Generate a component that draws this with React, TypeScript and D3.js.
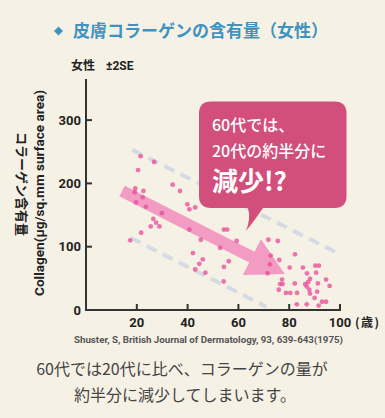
import React from 'react';
import * as d3 from 'd3';

// 年齢 (歳) と コラーゲン量 (μg/sq.mm)
const ages = [
  21.5, 26.8, 20.5, 19.4, 19.2, 22.6, 22.3, 19.7, 23.6, 29.9, 26.5, 27.6, 25.5, 28.9, 21.7, 17.4,
  34.1, 37, 39.9, 40.7, 43, 40.7, 45.2, 42.1, 46, 44.6, 43, 47,
  54.3, 55.6, 59.3, 52.8, 56.2, 54.3, 54.2,
  71.8, 75.5, 72.7, 76.1, 72.4, 71.5, 77.2, 76.4, 77.4, 75.9,
  82.3, 80.2, 85.4, 90.3, 91.7, 87, 90.6, 94.5, 88.2, 87.4, 86.3, 82.2, 91.3, 95.9, 86.9, 87.9,
  78.7, 80.4, 83.1, 88.2, 91, 90, 83, 86.9, 91.6, 92.9, 94.5,
];
const collagen = [
  243, 234, 221, 192, 186, 188, 178, 170, 163, 153, 144, 138, 132, 132, 122, 110,
  198, 188, 167, 159, 162, 127, 111, 90, 80, 73, 64, 59,
  127, 127, 109, 98, 77, 68, 45,
  111, 109, 86, 79, 72, 58, 48, 41, 41, 32,
  88, 67, 67, 70, 70, 58, 59, 48, 49, 44, 41, 42, 42, 38, 37, 32,
  27, 27, 27, 26, 29, 19, 9, 9, 7, 13, 13,
];

// ±2SE bounds and the trend arrow
const upperAge = [18.2, 100];
const upperVal = [253, 88];
const lowerAge = [17.6, 71];
const lowerVal = [114, 5];
const arrowAge = [14.2, 78.3];
const arrowVal = [188, 57];

const xTicks = [20, 40, 60, 80, 100];
const yTicks = [0, 100, 200, 300];

const W = 385;
const H = 418;

const x = d3.scaleLinear().domain([0, 100]).range([86, 340]);
const y = d3.scaleLinear().domain([0, 100]).range([310, 246.7]);

const jp = "'Noto Sans CJK JP', sans-serif";
const num = "'Liberation Sans Narrow', 'Roboto', 'DejaVu Sans', sans-serif";

function arrowPath() {
  const x0 = x(arrowAge[0]), y0 = y(arrowVal[0]);
  const x1 = x(arrowAge[1]), y1 = y(arrowVal[1]);
  const len = Math.hypot(x1 - x0, y1 - y0);
  const ux = (x1 - x0) / len, uy = (y1 - y0) / len;
  const nx = -uy, ny = ux;
  const shaft = 6, head = 20, headLen = 37;
  const bx = x1 - ux * headLen, by = y1 - uy * headLen;
  const pts: [number, number][] = [
    [x0 + nx * shaft, y0 + ny * shaft],
    [bx + nx * shaft, by + ny * shaft],
    [bx + nx * head, by + ny * head],
    [x1, y1],
    [bx - nx * head, by - ny * head],
    [bx - nx * shaft, by - ny * shaft],
    [x0 - nx * shaft, y0 - ny * shaft],
  ];
  return d3.line()(pts) + 'Z';
}

export default function App() {
  return (
    <svg width={W} height={H} style={{ position: 'absolute', left: 0, top: 0 }}>
      <rect width={W} height={H} fill="#f6f1e5" />

      {/* title */}
      <path d="M58.5,26.5 L63,31 L58.5,35.5 L54,31 Z" fill="#3f93c0" />
      <text x={73} y={37} fontFamily={jp} fontSize={17} fontWeight={700} fill="#3f93c0">
        皮膚コラーゲンの含有量（女性）
      </text>
      <text x={71} y={70} fontFamily={jp} fontSize={12} fontWeight={700} fill="#222">女性</text>
      <text x={106} y={70} fontFamily={num} fontSize={12} fontWeight={700} fill="#222">±2SE</text>

      {/* ±2SE dashed bounds */}
      <line x1={x(upperAge[0])} y1={y(upperVal[0])} x2={x(upperAge[1])} y2={y(upperVal[1])}
        stroke="#d5dbe2" strokeWidth={4} strokeDasharray="11 7" />
      <line x1={x(lowerAge[0])} y1={y(lowerVal[0])} x2={x(lowerAge[1])} y2={y(lowerVal[1])}
        stroke="#d5dbe2" strokeWidth={4} strokeDasharray="11 7" />

      {/* trend arrow */}
      <path d={arrowPath()} fill="#f29cc3" />

      {/* points */}
      {ages.map((a, i) => (
        <circle key={i} cx={x(a)} cy={y(collagen[i])} r={2.4} fill="#e9509c" opacity={0.78} />
      ))}

      {/* axes */}
      <line x1={86} y1={79} x2={86} y2={310} stroke="#333" strokeWidth={2} />
      <line x1={85} y1={310} x2={x(100) + 1} y2={310} stroke="#333" strokeWidth={2} />
      {yTicks.filter((t) => t > 0).map((t) => (
        <line key={t} x1={86} x2={92} y1={y(t)} y2={y(t)} stroke="#333" strokeWidth={2} />
      ))}
      {xTicks.map((t) => (
        <line key={t} x1={x(t)} x2={x(t)} y1={310} y2={304} stroke="#333" strokeWidth={2} />
      ))}
      {yTicks.map((t) => (
        <text key={t} x={81} y={y(t) + 4.5} textAnchor="end" fontFamily={num} fontSize={13}
          fontWeight={700} fill="#222">{t}</text>
      ))}
      {xTicks.map((t) => (
        <text key={t} x={x(t)} y={327} textAnchor="middle" fontFamily={num} fontSize={13}
          fontWeight={700} fill="#222">{t}</text>
      ))}
      <text x={355} y={327} fontFamily={jp} fontSize={12} fontWeight={700} fill="#222"
        letterSpacing={1.5}>(歳)</text>

      {/* y axis titles */}
      <text transform="translate(44,193) rotate(-90)" textAnchor="middle" fontFamily={num}
        fontSize={12} fontWeight={700} fill="#222" textLength={206} lengthAdjust="spacingAndGlyphs">
        Collagen(μg/sq.mm surface area)
      </text>
      <text transform="translate(17,184) rotate(90)" textAnchor="middle" fontFamily={jp}
        fontSize={13} fontWeight={700} fill="#222">
        コラーゲン含有量
      </text>

      {/* source */}
      <text x={74} y={343} fontFamily={num} fontSize={9} fontWeight={700} fill="#555"
        textLength={269} lengthAdjust="spacingAndGlyphs">
        Shuster, S, British Journal of Dermatology, 93, 639-643(1975)
      </text>

      {/* bubble */}
      <path
        d="M211,101.5 H334.5 Q346.5,101.5 346.5,113.5 V196 Q346.5,208 334.5,208 H263 Q255,220 246,231 Q251,219 248,208 H211 Q199,208 199,196 V113.5 Q199,101.5 211,101.5 Z"
        fill="#d24f7b" />
      <text x={212} y={131} fontFamily={jp} fontSize={16} fontWeight={500} fill="#fff">60代では、</text>
      <text x={212} y={157} fontFamily={jp} fontSize={16} fontWeight={500} fill="#fff">20代の約半分に</text>
      <text x={212} y={191} fontFamily={jp} fontSize={26} fontWeight={700} fill="#fff">減少!?</text>

      {/* caption */}
      <text x={182} y={375} textAnchor="middle" fontFamily={jp} fontSize={16} fill="#444">
        60代では20代に比べ、コラーゲンの量が
      </text>
      <text x={185} y={401} textAnchor="middle" fontFamily={jp} fontSize={16} fill="#444">
        約半分に減少してしまいます。
      </text>
    </svg>
  );
}
